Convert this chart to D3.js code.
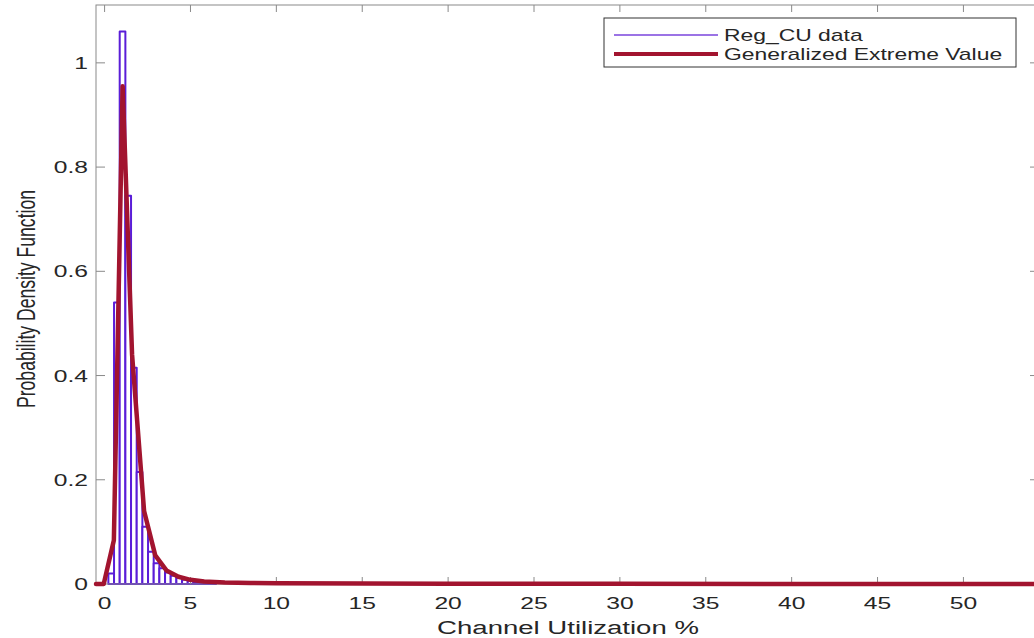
<!DOCTYPE html>
<html>
<head>
<meta charset="utf-8">
<script src="https://cdn.jsdelivr.net/npm/d3@7"></script>
<style>
  html, body { margin: 0; padding: 0; background: #fff; overflow: hidden; }
  svg { display: block; }
  text { font-family: "Liberation Sans", Arial, Helvetica, sans-serif; fill: #262626; }
</style>
</head>
<body>
<svg id="chart" width="1034" height="638"></svg>
<script>
// Histogram of channel utilization (bin edges and normalised heights)
const binEdges = [0.22, 0.55, 0.88, 1.21, 1.54, 1.87, 2.20, 2.53, 2.86, 3.19, 3.52,
                  3.85, 4.18, 4.51, 4.84, 5.17, 5.50, 5.83, 6.16, 6.49];
const binDensity = [0.02, 0.54, 1.06, 0.745, 0.415, 0.215, 0.11, 0.062, 0.04, 0.03,
                    0.022, 0.016, 0.012, 0.008, 0.006, 0.004, 0.003, 0.002, 0.0015];

// Fitted Generalized Extreme Value density
const gevX = [-0.5, -0.05, 0.54, 1.05, 1.6, 2.3, 2.95, 3.6, 4.3, 5.0, 5.8, 7.0,
              8.5, 10, 15, 20, 30, 40, 54.4];
const gevY = [0, 0, 0.084, 0.955, 0.44, 0.14, 0.055, 0.026, 0.014, 0.008, 0.005,
              0.003, 0.002, 0.0015, 0.001, 0.0007, 0.0004, 0.0002, 0.0001];

// Axis ticks and labels
const xTicks = [0, 5, 10, 15, 20, 25, 30, 35, 40, 45, 50];
const yTicks = [0, 0.2, 0.4, 0.6, 0.8, 1];
const xDomain = [-0.5, 54.4];
const yDomain = [0, 1.111];
const xLabel = "Channel Utilization %";
const yLabel = "Probability Density Function";
const legendNames = ["Reg_CU data", "Generalized Extreme Value"];

const histColor = "#5a1dd8";
const gevColor = "#a2142f";
const axisColor = "#8a8a8a";
const SX = 1.45; // horizontal glyph stretch

const plot = { left: 96, right: 1039, top: 5, bottom: 584 };

const svg = d3.select("#chart");
const x = d3.scaleLinear().domain(xDomain).range([plot.left, plot.right]);
const y = d3.scaleLinear().domain(yDomain).range([plot.bottom, plot.top]);

// Histogram bars (outlined)
const bins = binDensity.map((d, i) => ({ x0: binEdges[i], x1: binEdges[i + 1], v: d }));
svg.append("g")
  .selectAll("rect")
  .data(bins)
  .join("rect")
  .attr("x", d => x(d.x0))
  .attr("width", d => x(d.x1) - x(d.x0))
  .attr("y", d => y(d.v))
  .attr("height", d => y(0) - y(d.v))
  .attr("fill", "#fff")
  .attr("stroke", histColor)
  .attr("stroke-width", 2)
  .attr("stroke-linejoin", "round");

// Axes box with inward ticks
const axes = svg.append("g");
axes.append("rect")
  .attr("x", plot.left).attr("y", plot.top)
  .attr("width", plot.right - plot.left).attr("height", plot.bottom - plot.top)
  .attr("fill", "none").attr("stroke", axisColor).attr("stroke-width", 1);

const xTickLen = 7, yTickLen = 9;
axes.selectAll(".xt").data(xTicks).join("path")
  .attr("d", d => `M${x(d)},${plot.bottom}v${-xTickLen}M${x(d)},${plot.top}v${xTickLen}`)
  .attr("stroke", axisColor).attr("fill", "none");
axes.selectAll(".yt").data(yTicks).join("path")
  .attr("d", d => `M${plot.left},${y(d)}h${yTickLen}M${plot.right},${y(d)}h${-yTickLen}`)
  .attr("stroke", axisColor).attr("fill", "none");

// Tick labels
const tickFont = 17;
svg.append("g").selectAll("text").data(xTicks).join("text")
  .attr("transform", d => `translate(${x(d)},${plot.bottom + 25}) scale(${SX},1)`)
  .attr("text-anchor", "middle")
  .style("font-size", tickFont + "px")
  .text(d => d);
svg.append("g").selectAll("text").data(yTicks).join("text")
  .attr("transform", d => `translate(${plot.left - 8},${y(d) + 6}) scale(${SX},1)`)
  .attr("text-anchor", "end")
  .style("font-size", tickFont + "px")
  .text(d => d);

// Axis titles
svg.append("text")
  .attr("transform", `translate(${(x(0) + x(50)) / 2 + 34},${634}) scale(${SX},1)`)
  .attr("text-anchor", "middle")
  .style("font-size", "19px")
  .text(xLabel);
svg.append("text")
  .attr("transform", `translate(${35},${299}) scale(${SX},1) rotate(-90)`)
  .attr("text-anchor", "middle")
  .style("font-size", "17.6px")
  .text(yLabel);

// Fitted density curve
const line = d3.line().x(d => x(d[0])).y(d => y(d[1]));
svg.append("path")
  .datum(gevX.map((v, i) => [v, gevY[i]]))
  .attr("d", line)
  .attr("fill", "none")
  .attr("stroke", gevColor)
  .attr("stroke-width", 4.5)
  .attr("stroke-linejoin", "round")
  .attr("stroke-linecap", "round");

// Legend
const lg = svg.append("g").attr("transform", "translate(604,18)");
lg.append("rect").attr("width", 412).attr("height", 49)
  .attr("fill", "#fff").attr("stroke", "#333").attr("stroke-width", 1);
const entries = [
  { name: legendNames[0], color: "#7a44dc", w: 1.6 },
  { name: legendNames[1], color: gevColor, w: 4 }
];
entries.forEach((e, i) => {
  const yy = 17 + i * 19;
  lg.append("line").attr("x1", 10).attr("x2", 114).attr("y1", yy).attr("y2", yy)
    .attr("stroke", e.color).attr("stroke-width", e.w);
  lg.append("text")
    .attr("transform", `translate(120,${yy + 6}) scale(${SX},1)`)
    .style("font-size", "15.8px")
    .text(e.name);
});
</script>
</body>
</html>
